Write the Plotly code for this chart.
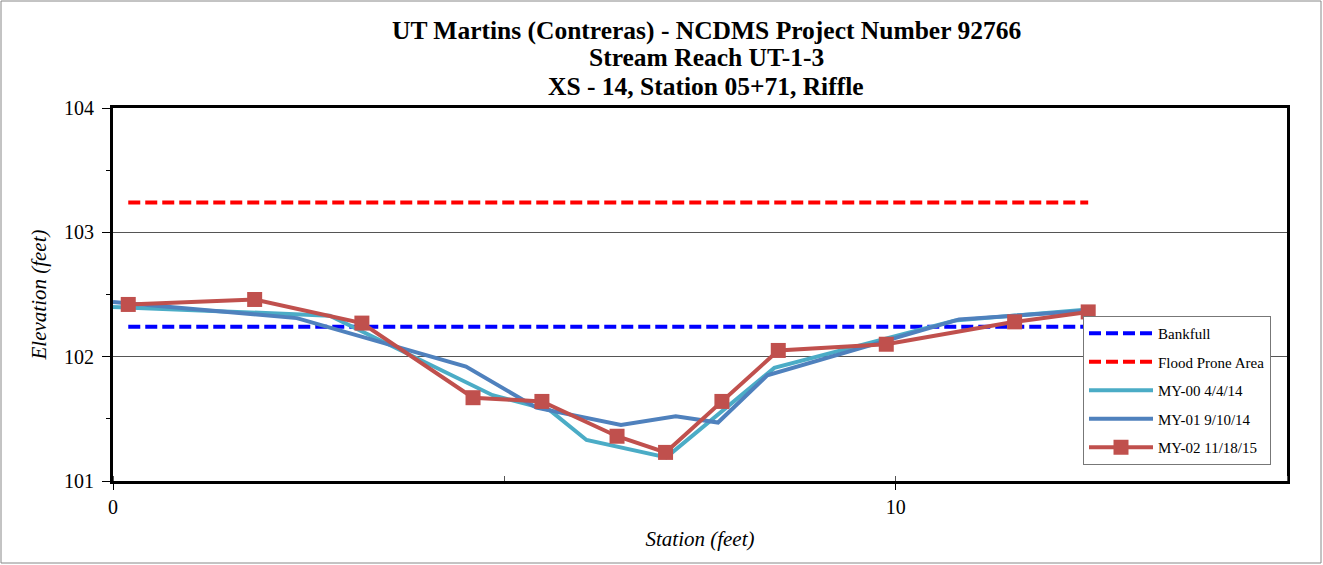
import plotly.graph_objects as go

# Cross-section survey data (station in feet, elevation in feet)
my00_station = [0.0, 2.77, 4.85, 5.58, 6.05, 7.07, 8.45, 10.75, 12.46]
my00_elev = [102.40, 102.33, 101.69, 101.57, 101.33, 101.19, 101.91, 102.29, 102.38]

my01_station = [0.0, 2.35, 4.51, 5.41, 6.49, 7.19, 7.73, 8.36, 10.81, 12.46]
my01_elev = [102.44, 102.31, 101.92, 101.59, 101.45, 101.52, 101.47, 101.85, 102.30, 102.37]

my02_station = [0.195, 1.81, 3.18, 4.60, 5.48, 6.44, 7.06, 7.78, 8.50, 9.88, 11.52, 12.46]
my02_elev = [102.42, 102.46, 102.27, 101.67, 101.64, 101.36, 101.23, 101.64, 102.05, 102.10, 102.28, 102.36]

level_station = [0.195, 12.46]
bankfull_elev = 102.24
flood_prone_elev = 103.24

title_lines = ["UT Martins (Contreras) - NCDMS Project Number 92766",
               "Stream Reach UT-1-3",
               "XS - 14, Station 05+71, Riffle"]

serif = "Liberation Serif"

fig = go.Figure()

fig.add_trace(go.Scatter(x=level_station, y=[bankfull_elev] * 2, mode="lines", name="Bankfull",
                         legendgroup="a", line=dict(color="#0000FF", width=4, dash="12px,5px")))
fig.add_trace(go.Scatter(x=level_station, y=[flood_prone_elev] * 2, mode="lines", name="Flood Prone Area",
                         legendgroup="b", line=dict(color="#FF0000", width=4, dash="12px,5px")))
fig.add_trace(go.Scatter(x=my00_station, y=my00_elev, mode="lines", name="MY-00 4/4/14",
                         legendgroup="c", line=dict(color="#4BACC6", width=4)))
fig.add_trace(go.Scatter(x=my01_station, y=my01_elev, mode="lines", name="MY-01 9/10/14",
                         legendgroup="d", line=dict(color="#4F81BD", width=4)))
fig.add_trace(go.Scatter(x=my02_station, y=my02_elev, mode="lines+markers", name="MY-02 11/18/15",
                         legendgroup="e", line=dict(color="#C0504D", width=4),
                         marker=dict(symbol="square", size=15, color="#C0504D")))

W, H = 1323, 565
ml, mr, mt, mb = 113, 36, 108, 84
pw, ph = W - ml - mr, H - mt - mb

fig.update_layout(
    width=W, height=H,
    margin=dict(l=ml, r=mr, t=mt, b=mb, autoexpand=False),
    paper_bgcolor="white", plot_bgcolor="white",
    font=dict(family=serif, color="black"),
    legend=dict(x=(1083 - ml) / pw, y=(481 - 316) / ph, xanchor="left", yanchor="top",
                bgcolor="white", bordercolor="#777777", borderwidth=1,
                font=dict(family=serif, size=15, color="black"),
                traceorder="grouped", tracegroupgap=6, itemwidth=64),
    showlegend=True,
)

# three-line bold title, one line per annotation
for py, line in zip([30, 58, 87], title_lines):
    fig.add_annotation(text="<b>" + line + "</b>", xref="paper", yref="paper",
                       x=(706 - ml) / pw, y=(H - mb - py) / ph, xanchor="center", yanchor="middle",
                       showarrow=False, font=dict(family=serif, size=25.5, color="black"))

fig.update_xaxes(
    range=[0, 15], dtick=10, tick0=0,
    showgrid=False, zeroline=False,
    showline=True, linecolor="black", linewidth=3, mirror=True,
    ticks="outside", ticklen=6, tickcolor="black",
    minor=dict(dtick=5, ticks="inside", ticklen=5, tickcolor="#555555", showgrid=False),
    tickfont=dict(family=serif, size=20, color="black"),
    title=dict(text="<i>Station (feet)</i>", font=dict(family=serif, size=21, color="black"), standoff=15),
)
fig.update_yaxes(
    range=[101, 104], dtick=1,
    showgrid=True, gridcolor="#555555", gridwidth=1, zeroline=False,
    showline=True, linecolor="black", linewidth=3, mirror=True,
    ticks="outside", ticklen=8, tickcolor="black", ticklabelstandoff=4,
    minor=dict(dtick=0.5, ticks="outside", ticklen=4, tickcolor="black", showgrid=False),
    tickfont=dict(family=serif, size=20, color="black"),
    title=dict(text="<i>Elevation (feet)</i>", font=dict(family=serif, size=21, color="black"), standoff=12),
)

# thin grey frame around the whole chart
fig.add_shape(type="rect", xref="paper", yref="paper", layer="below",
              x0=-(ml - 1) / pw, x1=1 + (mr - 2) / pw, y0=-(mb - 2) / ph, y1=1 + (mt - 1) / ph,
              line=dict(color="#888888", width=1), fillcolor="rgba(0,0,0,0)")

fig.write_html("out.html", config={"displayModeBar": False},
               post_script="document.body.style.margin='0';")
